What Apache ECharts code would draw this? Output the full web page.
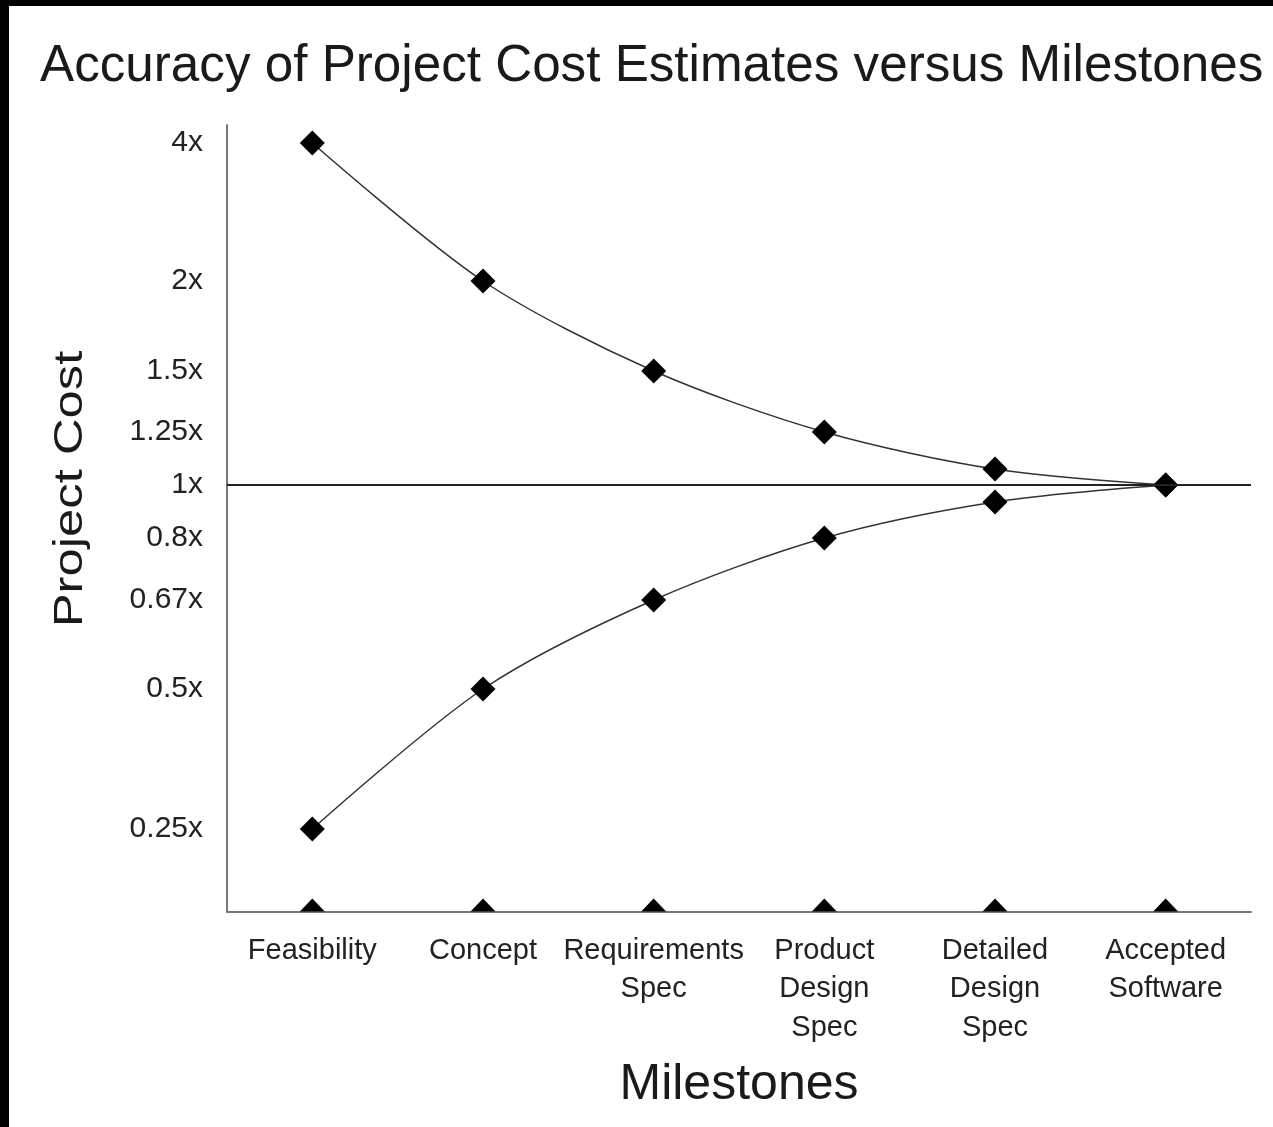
<!DOCTYPE html>
<html>
<head>
<meta charset="utf-8">
<script src="https://cdn.jsdelivr.net/npm/echarts@6/dist/echarts.min.js"></script>
<style>
  html, body { margin: 0; padding: 0; background: #000; }
  #chart { position: absolute; left: 9px; top: 6px; width: 1264px; height: 1121px; background: #fff; }
</style>
</head>
<body>
<div id="chart"></div>
<script>
const milestones = ['Feasibility', 'Concept', 'Requirements\nSpec', 'Product\nDesign\nSpec', 'Detailed\nDesign\nSpec', 'Accepted\nSoftware'];
const overEstimate = [4, 2, 1.5, 1.25, 1.075, 1];
const underEstimate = [0.25, 0.5, 0.67, 0.8, 0.936, 1];
const baseline = [0, 0, 0, 0, 0, 0];
const tickValues = [0.25, 0.5, 0.67, 0.8, 1, 1.25, 1.5, 2, 4];
const tickLabels = ['0.25x', '0.5x', '0.67x', '0.8x', '1x', '1.25x', '1.5x', '2x', '4x'];

// the y scale in the original is neither linear nor log, so map multipliers
// onto axis units with the stops
const scaleStops = [
  [0, 0], [0.25, 82.5], [0.5, 222.5], [0.67, 311.5], [0.8, 373.5],
  [1, 426.5], [1.25, 479.5], [1.5, 540.5], [2, 630.5], [4, 768.5]
];
const axisTop = 786.5;

const toAxis = v => {
  for (let i = 1; i < scaleStops.length; i++) {
    const [v0, p0] = scaleStops[i - 1];
    const [v1, p1] = scaleStops[i];
    if (v <= v1) return p0 + (v - v0) / (v1 - v0) * (p1 - p0);
  }
  return scaleStops[scaleStops.length - 1][1];
};

const tickPos = tickValues.map(toAxis);
const font = 'Liberation Sans, Arial, sans-serif';

const myChart = echarts.init(document.getElementById('chart'));

const curve = (name, values) => ({
  name: name,
  type: 'line',
  smooth: 0.3,
  symbol: 'diamond',
  symbolSize: 25,
  itemStyle: { color: '#000' },
  lineStyle: { color: '#333', width: 1.5 },
  data: values.map(toAxis),
  z: 3
});

myChart.setOption({
  animation: false,
  title: {
    text: 'Accuracy of Project Cost Estimates versus Milestones',
    left: 26,
    top: 30,
    textStyle: { fontFamily: font, fontSize: 51.2, fontWeight: 'normal', color: '#1a1a1a' }
  },
  // the axis name in the original is stretched and sits level with 1x
  graphic: [{
    type: 'text',
    x: 62,
    y: 483,
    rotation: Math.PI / 2,
    scaleX: 1.27,
    style: {
      text: 'Project Cost',
      fontFamily: font,
      fontSize: 40,
      fill: '#1a1a1a',
      align: 'center',
      verticalAlign: 'middle'
    }
  }],
  grid: {
    left: 218,
    right: 22,
    top: 119,
    bottom: 215.5,
    containLabel: false
  },
  xAxis: {
    type: 'category',
    data: milestones,
    boundaryGap: true,
    name: 'Milestones',
    nameLocation: 'middle',
    nameGap: 149,
    nameTextStyle: { fontFamily: font, fontSize: 50, color: '#1a1a1a' },
    axisLine: { lineStyle: { color: '#777', width: 2 } },
    axisTick: { show: false },
    axisLabel: {
      interval: 0,
      margin: 20,
      fontFamily: font,
      fontSize: 29,
      lineHeight: 38.5,
      color: '#222'
    }
  },
  yAxis: {
    type: 'value',
    min: 0,
    max: axisTop,
    axisLine: { show: true, lineStyle: { color: '#777', width: 2 } },
    axisTick: { show: false },
    splitLine: { show: false },
    axisLabel: {
      customValues: tickPos,
      margin: 24,
      fontFamily: font,
      fontSize: 30,
      color: '#222',
      formatter: v => {
        const i = tickPos.findIndex(p => Math.abs(p - v) < 0.01);
        return i >= 0 ? tickLabels[i] : '';
      }
    }
  },
  series: [
    Object.assign(curve('Over', overEstimate), {
      markLine: {
        silent: true,
        symbol: 'none',
        label: { show: false },
        lineStyle: { color: '#222', width: 2, type: 'solid' },
        data: [{ yAxis: toAxis(1) }]
      }
    }),
    curve('Under', underEstimate),
    {
      name: 'Baseline',
      type: 'line',
      symbol: 'triangle',
      symbolSize: [25, 13],
      symbolOffset: [0, -6.5],
      itemStyle: { color: '#000' },
      lineStyle: { width: 0, opacity: 0 },
      data: baseline.map(toAxis),
      z: 3
    }
  ]
});

window.onresize = () => myChart.resize();
</script>
</body>
</html>
